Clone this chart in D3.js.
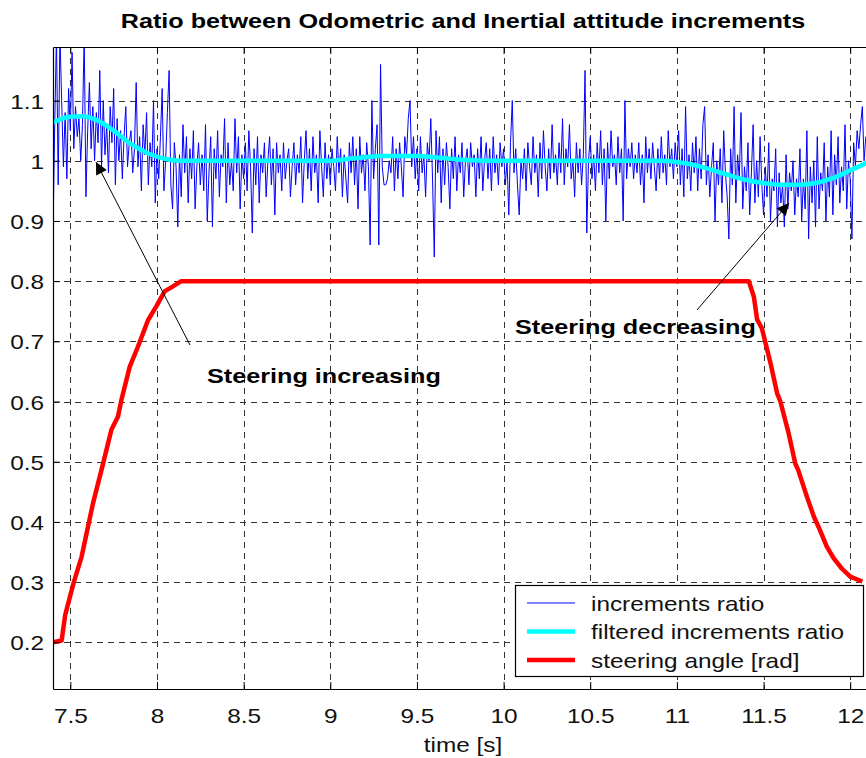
<!DOCTYPE html>
<html>
<head>
<meta charset="utf-8">
<script src="https://cdn.jsdelivr.net/npm/d3@7"></script>
<style>
  body { margin: 0; background: #fff; }
  text { font-family: "Liberation Sans", Arial, sans-serif; }
</style>
</head>
<body>
<div id="viz"></div>
<script>
// ---- data ----
var t0 = 7.40, dt = 0.01;
// increments ratio, one row = 0.1 s
var ratio = [
  0.88, 1.06, 1.21, 0.96, 1.21, 1.10, 0.99, 1.08, 0.97, 1.12,
  1.05, 1.18, 1.02, 1.09, 1.04, 1.07, 1.00, 1.06, 1.21, 0.94,
  1.05, 1.13, 1.02, 1.09, 1.00, 1.08, 1.03, 1.15, 0.99, 1.10,
  1.01, 1.06, 0.98, 1.09, 1.03, 1.12, 0.96, 1.07, 1.00, 1.05,
  0.97, 1.04, 1.09, 0.99, 1.03, 1.05, 0.98, 1.02, 1.13, 0.99,
  1.04, 0.95, 1.06, 1.01, 1.08, 0.96, 1.03, 0.99, 1.10, 0.93,
  1.02, 0.97, 1.04, 1.12, 0.95, 1.00, 1.08, 1.15, 0.96, 0.92,
  1.03, 0.99, 0.89, 1.01, 0.94, 1.06, 0.98, 1.04, 0.93, 1.02,
  0.97, 1.05, 0.92, 0.99, 1.03, 0.96, 1.01, 0.95, 1.06, 0.90,
  0.98, 1.04, 0.89, 1.02, 0.97, 1.05, 0.94, 1.01, 0.99, 1.07,
  0.93, 1.03, 0.96, 1.00, 0.95, 1.07, 0.98, 1.04, 0.92, 1.01,
  0.97, 1.03, 0.95, 1.05, 0.99, 0.88, 1.02, 0.96, 1.04, 0.93,
  1.01, 0.98, 1.03, 0.94, 1.00, 1.04, 0.96, 1.02, 0.91, 1.03,
  0.98, 1.01, 0.95, 1.03, 0.97, 1.00, 1.02, 0.94, 0.99, 1.03,
  0.96, 1.01, 0.98, 1.04, 0.93, 1.00, 1.05, 0.97, 1.02, 0.95,
  1.04, 0.98, 1.01, 0.93, 1.05, 0.99, 0.94, 1.03, 0.97, 1.01,
  0.96, 1.02, 0.99, 0.95, 1.04, 0.98, 1.02, 0.94, 1.01, 0.97,
  0.93, 1.03, 0.98, 1.04, 0.96, 1.02, 0.92, 1.04, 0.98, 1.01,
  0.95, 1.03, 0.99, 0.86, 1.10, 0.97, 1.02, 1.06, 0.86, 1.16,
  0.99, 0.96, 0.96, 0.97, 1.00, 0.98, 1.04, 0.95, 1.02, 0.97,
  1.03, 0.99, 0.94, 1.04, 1.01, 1.07, 1.10, 0.99, 1.04, 0.97,
  1.02, 0.95, 1.04, 0.98, 1.01, 0.94, 1.03, 1.00, 1.07, 0.97,
  0.84, 1.05, 0.98, 1.04, 0.93, 1.02, 0.96, 1.03, 0.99, 0.92,
  1.02, 0.97, 1.04, 0.95, 1.01, 0.98, 1.03, 0.94, 1.00, 1.02,
  0.96, 1.03, 0.99, 1.01, 0.94, 1.02, 0.97, 1.04, 0.95, 1.00,
  1.03, 0.97, 1.02, 0.95, 1.04, 0.98, 1.01, 0.96, 1.03, 0.99,
  1.02, 0.96, 1.00, 0.91, 1.03, 1.10, 0.98, 1.02, 0.96, 0.91,
  1.00, 0.97, 1.02, 0.95, 1.03, 0.99, 0.96, 1.04, 0.98, 1.01,
  0.94, 1.03, 0.97, 1.05, 0.99, 0.95, 1.02, 0.97, 1.06, 0.98,
  1.01, 0.96, 1.03, 0.98, 1.07, 0.96, 1.02, 0.99, 1.06, 0.97,
  1.00, 0.94, 1.03, 0.98, 1.02, 0.96, 1.01, 1.15, 0.88, 1.00,
  1.04, 0.97, 1.01, 0.95, 1.03, 0.98, 1.05, 0.96, 1.02, 0.90,
  1.03, 0.97, 1.05, 0.99, 1.01, 0.96, 1.04, 0.98, 1.02, 0.90,
  1.10, 0.97, 1.02, 0.99, 1.03, 0.97, 1.01, 0.98, 1.03, 0.96,
  1.01, 0.93, 1.04, 0.98, 1.02, 0.97, 1.03, 0.99, 0.95, 1.02,
  0.97, 1.04, 0.98, 1.01, 0.96, 1.05, 0.99, 1.02, 0.97, 1.03,
  0.99, 1.05, 0.96, 1.02, 0.94, 1.09, 0.97, 1.01, 0.95, 1.03,
  0.98, 1.04, 0.95, 1.02, 0.97, 1.06, 1.09, 0.96, 1.01, 0.94,
  0.99, 1.03, 0.90, 1.00, 0.96, 1.02, 0.93, 1.05, 0.98, 0.94,
  0.87, 1.02, 0.96, 1.09, 0.93, 1.01, 0.97, 1.08, 0.92, 0.99,
  0.95, 1.03, 0.91, 0.98, 1.06, 0.93, 1.00, 0.94, 1.04, 0.96,
  0.91, 0.99, 0.94, 1.03, 0.90, 0.97, 0.95, 1.02, 0.89, 0.98,
  0.93, 0.96, 0.89, 1.01, 0.92, 0.98, 0.95, 1.00, 0.91, 0.97,
  0.94, 1.02, 0.90, 0.97, 0.92, 1.05, 0.87, 0.99, 0.93, 1.00,
  0.89, 1.04, 0.92, 0.98, 0.95, 1.03, 0.90, 0.99, 0.94, 1.05,
  0.91, 1.01, 0.96, 1.04, 0.93, 0.99, 0.95, 1.06, 0.92, 1.00,
  0.97, 0.87, 1.03, 0.99, 1.05, 1.02, 1.06, 1.09, 1.00, 1.04
];

// filtered increments ratio
var filtT = [7.40, 7.50, 7.57, 7.65, 7.75, 7.85, 7.95, 8.05, 8.15, 8.20, 9.00, 9.10, 9.20, 9.30,
             9.50, 9.60, 9.70, 9.80, 10.00, 10.90, 11.00, 11.10, 11.20, 11.30, 11.40, 11.50,
             11.60, 11.70, 11.80, 11.90, 12.00, 12.10];
var filtV = [1.064, 1.073, 1.074, 1.068, 1.050, 1.028, 1.012, 1.003, 1.000, 1.000, 1.000, 1.003, 1.006, 1.008,
             1.008, 1.006, 1.003, 1.001, 1.000, 1.000, 0.998, 0.993, 0.985, 0.976, 0.968, 0.963,
             0.960, 0.960, 0.963, 0.971, 0.984, 0.997];

// steering angle [rad]
var steerT = [7.40, 7.45, 7.47, 7.52, 7.565, 7.63, 7.69, 7.737, 7.775, 7.795, 7.843, 7.89, 7.948,
              7.996, 8.044, 8.09, 8.14, 11.415, 11.444, 11.463, 11.49, 11.54, 11.578, 11.597,
              11.645, 11.683, 11.70, 11.75, 11.79, 11.817, 11.865, 11.904, 11.95, 12.0, 12.07];
var steerV = [0.200, 0.203, 0.245, 0.300, 0.342, 0.430, 0.498, 0.553, 0.575, 0.603, 0.658, 0.691, 0.735,
              0.758, 0.783, 0.791, 0.800, 0.800, 0.774, 0.736, 0.722, 0.664, 0.614, 0.600,
              0.547, 0.497, 0.486, 0.442, 0.409, 0.392, 0.359, 0.340, 0.323, 0.309, 0.301];

var xTicks = [7.5, 8, 8.5, 9, 9.5, 10, 10.5, 11, 11.5, 12];
var yTicks = [0.2, 0.3, 0.4, 0.5, 0.6, 0.7, 0.8, 0.9, 1.0, 1.1];
var legendLabels = ["increments ratio", "filtered increments ratio", "steering angle [rad]"];
var legendColors = ["#0000ff", "#00ffff", "#ff0000"];
var legendWidths = [1, 4.5, 4.5];

// ---- layout ----
var width = 866, height = 758;
var pLeft = 53, pTop = 47, pRight = 871, pBottom = 689;
var sxReg = 1.16, sxBold = 1.2;   // the original glyphs are a bit wider than Liberation Sans

var x = d3.scaleLinear().domain([7.4, 12.12]).range([pLeft, pRight]);
var y = d3.scaleLinear().domain([0.1224, 1.189]).range([pBottom, pTop]);

// widen text horizontally around its anchor point
function stretch(sel, sx) {
  sel.attr('transform', function() {
    var ax = +this.getAttribute('x') || 0;
    return `translate(${ax * (1 - sx)},0) scale(${sx},1)`;
  });
}

var svg = d3.select('#viz')
  .append('svg')
  .attr('width', width)
  .attr('height', height);

var defs = svg.append('defs');
defs.append('clipPath')
  .attr('id', 'plotClip')
  .append('rect')
  .attr('x', pLeft).attr('y', pTop)
  .attr('width', pRight - pLeft).attr('height', pBottom - pTop);

// grid
var grid = svg.append('g')
  .attr('stroke', '#333')
  .attr('stroke-width', 1)
  .attr('stroke-dasharray', '6,5');
grid.selectAll('.vg')
  .data(xTicks)
  .join('line')
  .attr('class', 'vg')
  .attr('x1', d => Math.round(x(d)) + 0.5)
  .attr('x2', d => Math.round(x(d)) + 0.5)
  .attr('y1', pTop).attr('y2', pBottom);
grid.selectAll('.hg')
  .data(yTicks)
  .join('line')
  .attr('class', 'hg')
  .attr('y1', d => Math.round(y(d)) + 0.5)
  .attr('y2', d => Math.round(y(d)) + 0.5)
  .attr('x1', pLeft).attr('x2', pRight);

// series
var plot = svg.append('g').attr('clip-path', 'url(#plotClip)');

var ratioLine = d3.line()
  .x((d, i) => x(t0 + i * dt))
  .y(d => y(d));
plot.append('path')
  .datum(ratio)
  .attr('fill', 'none')
  .attr('stroke', '#0000ff')
  .attr('stroke-width', 1)
  .attr('d', ratioLine);

var filtLine = d3.line()
  .x((d, i) => x(filtT[i]))
  .y(d => y(d))
  .curve(d3.curveMonotoneX);
plot.append('path')
  .datum(filtV)
  .attr('fill', 'none')
  .attr('stroke', '#00ffff')
  .attr('stroke-width', 4.5)
  .attr('d', filtLine);

var steerLine = d3.line()
  .x((d, i) => x(steerT[i]))
  .y(d => y(d));
plot.append('path')
  .datum(steerV)
  .attr('fill', 'none')
  .attr('stroke', '#ff0000')
  .attr('stroke-width', 4.5)
  .attr('stroke-linejoin', 'round')
  .attr('d', steerLine);

// axes box and ticks
var xAxis = d3.axisBottom(x).tickValues(xTicks).tickSizeInner(-7).tickSizeOuter(0).tickFormat(d3.format('~g'));
var gx = svg.append('g').attr('transform', `translate(0,${pBottom})`).call(xAxis);
var xTop = d3.axisTop(x).tickValues(xTicks).tickSizeInner(-7).tickSizeOuter(0).tickFormat('');
svg.append('g').attr('transform', `translate(0,${pTop})`).call(xTop);
var yAxis = d3.axisLeft(y).tickValues(yTicks).tickSizeInner(-7).tickSizeOuter(0).tickFormat(d3.format('~g'));
var gy = svg.append('g').attr('transform', `translate(${pLeft},0)`).call(yAxis);

svg.selectAll('.domain').attr('stroke', '#000').attr('stroke-width', 1.2);
svg.selectAll('.tick line').attr('stroke', '#000');
gx.selectAll('.tick text')
  .attr('font-size', 21)
  .attr('fill', '#111')
  .attr('y', 19)
  .call(stretch, sxReg);
gy.selectAll('.tick text')
  .attr('font-size', 21)
  .attr('fill', '#111')
  .attr('x', -9)
  .attr('dy', '0.36em')
  .call(stretch, sxReg);

// title and labels
svg.append('text')
  .attr('x', 463).attr('y', 28)
  .attr('text-anchor', 'middle')
  .attr('font-size', 21)
  .attr('font-weight', 'bold')
  .text('Ratio between Odometric and Inertial attitude increments')
  .call(stretch, sxBold);

svg.append('text')
  .attr('x', 463).attr('y', 752)
  .attr('text-anchor', 'middle')
  .attr('font-size', 21)
  .attr('fill', '#111')
  .text('time [s]')
  .call(stretch, sxReg);

// annotations
defs.append('marker')
  .attr('id', 'arrowHead')
  .attr('viewBox', '0 0 10 10')
  .attr('refX', 10).attr('refY', 5)
  .attr('markerWidth', 16).attr('markerHeight', 12)
  .attr('markerUnits', 'userSpaceOnUse')
  .attr('orient', 'auto')
  .append('path')
  .attr('d', 'M0,0 L10,5 L0,10 Z')
  .attr('fill', '#000');

var notes = [
  {label: 'Steering increasing', tx: 207, ty: 383, from: [190, 345], to: [96, 162]},
  {label: 'Steering decreasing', tx: 515, ty: 334, from: [697, 310], to: [789, 203]}
];
svg.selectAll('.note-line')
  .data(notes)
  .join('line')
  .attr('class', 'note-line')
  .attr('x1', d => d.from[0]).attr('y1', d => d.from[1])
  .attr('x2', d => d.to[0]).attr('y2', d => d.to[1])
  .attr('stroke', '#000')
  .attr('stroke-width', 1)
  .attr('marker-end', 'url(#arrowHead)');
svg.selectAll('.note-text')
  .data(notes)
  .join('text')
  .attr('class', 'note-text')
  .attr('x', d => d.tx).attr('y', d => d.ty)
  .attr('font-size', 21)
  .attr('font-weight', 'bold')
  .text(d => d.label)
  .call(stretch, sxBold);

// legend
var lg = svg.append('g');
lg.append('rect')
  .attr('x', 515.5).attr('y', 585.5)
  .attr('width', 348).attr('height', 91)
  .attr('fill', '#fff')
  .attr('stroke', '#000')
  .attr('stroke-width', 1.2);
var items = lg.selectAll('.item')
  .data(legendLabels)
  .join('g')
  .attr('class', 'item')
  .attr('transform', (d, i) => `translate(0,${603 + i * 28.5})`);
items.append('line')
  .attr('x1', 527).attr('x2', 575)
  .attr('stroke', (d, i) => legendColors[i])
  .attr('stroke-width', (d, i) => legendWidths[i]);
items.append('text')
  .attr('x', 591).attr('y', 0)
  .attr('dy', '0.36em')
  .attr('font-size', 21)
  .attr('fill', '#111')
  .text(d => d)
  .call(stretch, sxReg);
</script>
</body>
</html>
